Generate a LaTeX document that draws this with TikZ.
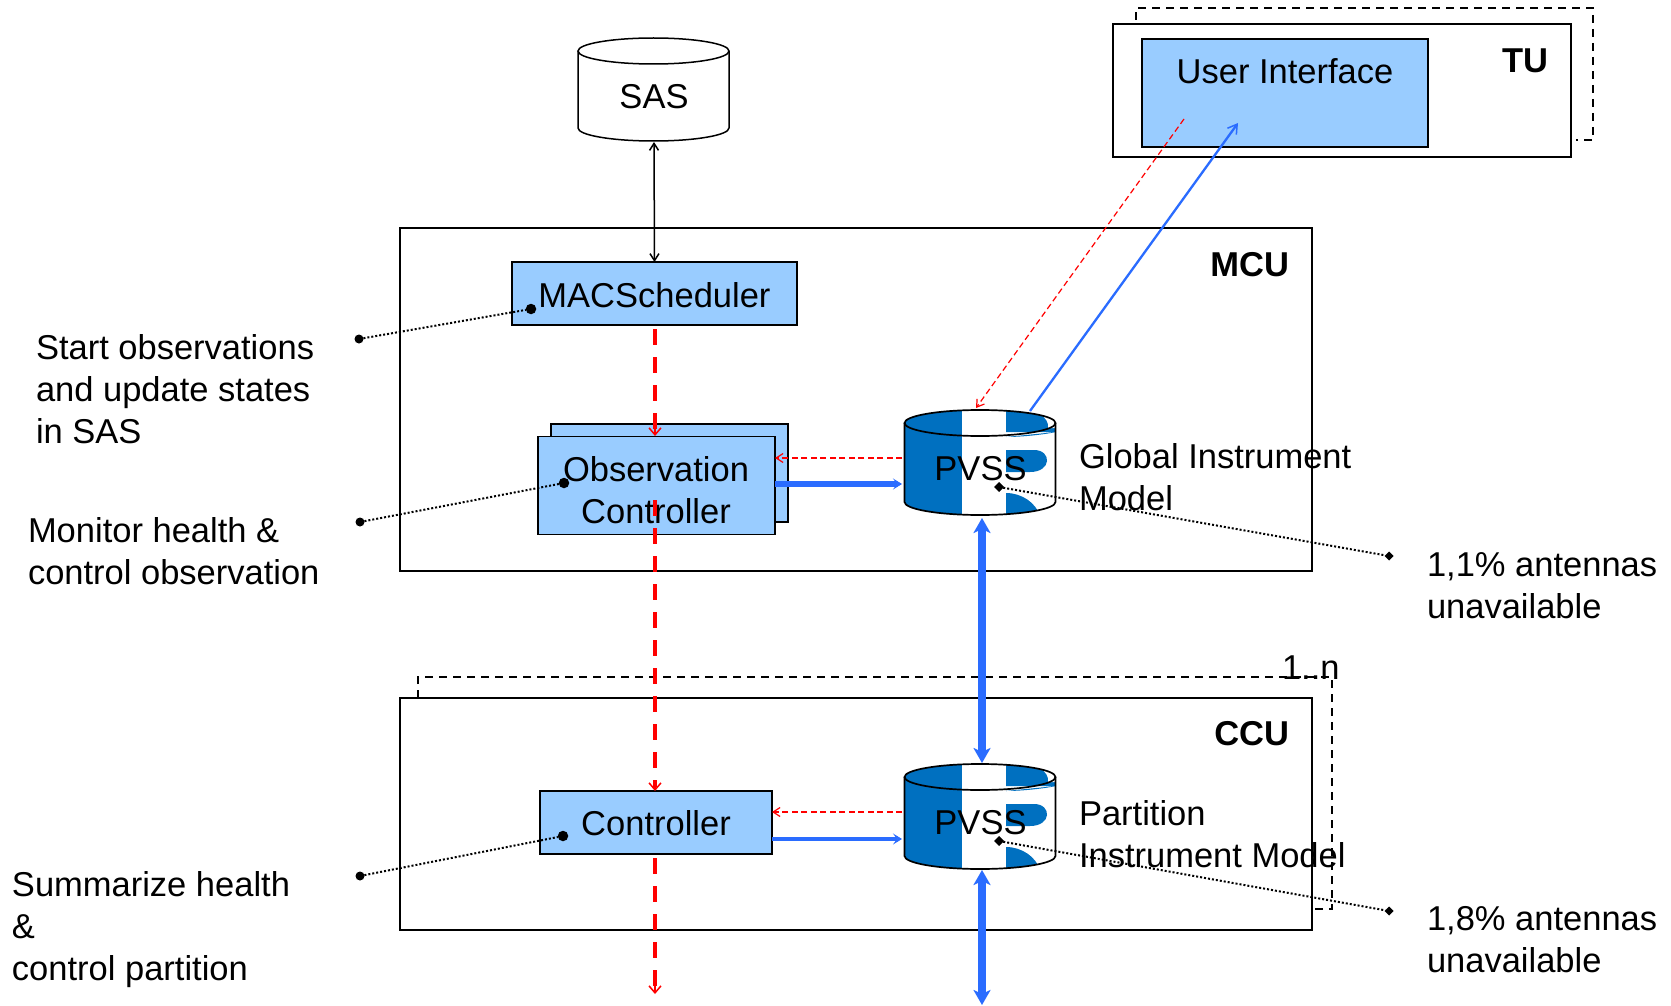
\documentclass[tikz,border=0pt]{standalone}
\usepackage{fontspec}
\setmainfont{Liberation Sans}
\usetikzlibrary{arrows.meta,shapes.geometric,calc}
\definecolor{boxblue}{HTML}{99CCFF}
\definecolor{logoblue}{HTML}{0070C0}
\definecolor{linkblue}{HTML}{2A6CFF}
\newcommand\fl{\rule{0pt}{26pt}}
\newcommand\pvssbody[3]{% #1 name, #2 x centre, #3 top ellipse centre y
  \begin{scope}[shift={(#2,#3)}]
    \begin{scope}
      \clip (-75.5,0) arc[x radius=75.5,y radius=13,start angle=180,end angle=360] -- (75.5,79) arc[x radius=75.5,y radius=13,start angle=0,end angle=180] -- cycle;
      \fill[white] (-76,-14) rectangle (76,93);
      \fill[logoblue] (-76,-14) rectangle (-18,93);
      \fill[logoblue] (26,-14) rectangle (76,9) .. controls (62,12) and (40,14) .. (26,14) -- cycle;
      \fill[white] (60,-9) -- (76,-9) -- (76,5) -- (68,5) .. controls (69,0) and (66,-5) .. (60,-9) -- cycle;
      \fill[logoblue] (26,27) -- (54,27) .. controls (72,27) and (72,49) .. (50,49) -- (26,49) -- cycle;
      \fill[logoblue] (26,70) .. controls (42,70) and (56,80) .. (60,93) -- (26,93) -- cycle;
    \end{scope}
    \draw[line width=1.7pt] (-75.5,0) -- (-75.5,79) arc[x radius=75.5,y radius=13,start angle=180,end angle=0] -- (75.5,0);
    \draw[line width=1.7pt] (0,0) ellipse[x radius=75.5,y radius=13];
  \end{scope}
}
\tikzset{
  x=1pt,y=-1pt,
  every node/.style={font=\fontsize{34.5}{42}\selectfont,inner sep=0pt,outer sep=0pt,text=black},
  frame/.style={draw=black,line width=1.5pt,fill=white,minimum width=#1},
  comp/.style={draw=black,line width=1.5pt,fill=boxblue},
  dashedframe/.style={draw=black,line width=2.4pt,dash pattern=on 8pt off 6pt},
  caption/.style={align=left,anchor=north west},
  boldtag/.style={font=\fontsize{34.5}{42}\selectfont\bfseries,anchor=base east},
  thinred/.style={draw=red,line width=1.2pt,dash pattern=on 6pt off 3.5pt,-{Straight Barb[length=7pt,width=9pt,line width=1.2pt]}},
  thickred/.style={draw=red,line width=4.5pt,dash pattern=on 16pt off 12pt},
  redtip/.style={draw=red,line width=2pt,-{Straight Barb[length=7pt,width=12pt,line width=1.5pt]}},
  thinblue/.style={draw=linkblue,line width=2.3pt,-{Straight Barb[length=9pt,width=11pt,line width=1.5pt]}},
  thickblue/.style={draw=linkblue,line width=#1,-{Stealth[length=9pt,width=11pt,inset=4pt,line width=0.8pt]}},
  fatblue/.style={draw=linkblue,line width=8pt,{Stealth[length=15pt,width=17pt,inset=4pt]}-{Stealth[length=15pt,width=17pt,inset=4pt]}},
  note/.style={draw=black,line width=2pt,dash pattern=on 2pt off 2pt},
  dot/.style={circle,fill=black,minimum size=10.5pt},
  tick/.style={diamond,fill=black},
  blacklink/.style={line width=1.5pt,{Straight Barb[length=7pt,width=9pt,line width=1.5pt]}-{Straight Barb[length=7pt,width=9pt,line width=1.5pt]}},
}
\begin{document}
\begin{tikzpicture}
\useasboundingbox[fill=white] (0,0) rectangle (1671,1006);
% dashed multiplicity frames
\draw[dashedframe] (1136,20) -- (1136,8) -- (1593,8) -- (1593,140) -- (1576,140);
\draw[dashedframe] (418,698) -- (418,677) -- (1332,677) -- (1332,909) -- (1314,909);
% containers
\node[frame=458pt,minimum height=133pt] (tu) at (1342,90.5) {};
\node[frame=912pt,minimum height=343pt] (mcu) at (856,399.5) {};
\node[frame=912pt,minimum height=232pt] (ccu) at (856,814) {};
% labels of containers
\node[boldtag] (tutag) at (1548,73) {TU};
\node[boldtag] (mcutag) at (1289,276) {MCU};
\node[boldtag] (ccutag) at (1289,745.5) {CCU};
\node[anchor=base west] (mult) at (1282,679) {1..n};
% SAS
\fill[white] (578,51) arc[x radius=75.5,y radius=13,start angle=180,end angle=360] -- (729,128) arc[x radius=75.5,y radius=13,start angle=0,end angle=180] -- cycle;
\draw[line width=1.5pt] (578,51) -- (578,128) arc[x radius=75.5,y radius=13,start angle=180,end angle=0] -- (729,51);
\draw[line width=1.5pt] (653.5,51) ellipse[x radius=75.5,y radius=13];
\node[minimum width=152pt,minimum height=90pt] (sas) at (654,97) {SAS};
% components
\node[comp,minimum width=286pt,minimum height=108pt] (ui) at (1285,93) {};
\node[anchor=base] (uitext) at (1285,84) {User Interface};
\node[comp,minimum width=285pt,minimum height=63pt] (mac) at (654.5,293.5) {};
\node[anchor=base] (mactext) at (654.5,307) {MACScheduler};
\node[comp,minimum width=237pt,minimum height=98pt] (obsback) at (669.5,473) {};
\node[comp,minimum width=237pt,minimum height=98pt] (obs) at (656.5,485.5) {};
\node[anchor=north,align=center] (obstext) at (656,455) {\fl Observation\\Controller};
\node[comp,minimum width=232pt,minimum height=63pt] (ctrl) at (656,822.5) {};
\node[anchor=base] (ctrltext) at (656,835) {Controller};
% PVSS cylinders
\pvssbody{a}{980}{423}
\pvssbody{b}{980}{777}
\node[anchor=base] (pvssa) at (980.5,480.5) {PVSS};
\node[anchor=base] (pvssb) at (980.5,834) {PVSS};
% captions
\node[caption] (c1) at (36,333) {\fl Start observations\\and update states\\in SAS};
\node[caption] (c2) at (28,516) {\fl Monitor health \&\\control observation};
\node[caption] (c3) at (12,870) {\fl Summarize health\\\&\\control partition};
\node[caption] (c4) at (1427,550) {\fl 1,1\% antennas\\unavailable};
\node[caption] (c5) at (1427,904) {\fl 1,8\% antennas\\unavailable};
\node[caption] (c6) at (1079,442) {\fl Global Instrument\\Model};
\node[caption] (c7) at (1079,799) {\fl Partition\\Instrument Model};
% connector ends
\coordinate (macout) at (655,329);
\coordinate (obsin) at (655,436);
\coordinate (obsout) at (655,500);
\coordinate (ctrlin) at (655,791);
\coordinate (ctrlout) at (655,858);
\coordinate (redend) at (655,994);
\coordinate (uiredstart) at (1184,119);
\coordinate (pvssredend) at (976,408);
\coordinate (pvssblue) at (1030,411);
\coordinate (uiblue) at (1238,123);
\coordinate (fat1a) at (982,518);
\coordinate (fat1b) at (982,763);
\coordinate (fat2a) at (982,870);
\coordinate (fat2b) at (982,1005);
% connectors
\draw[blacklink] (sas.south) -- (mac.north);
\draw[thickred] (macout) -- ($(obsin)+(0,-4)$);
\draw[redtip] ($(obsin)+(0,-8)$) -- (obsin);
\draw[thickred] (obsout) -- ($(ctrlin)+(0,-4)$);
\draw[redtip] ($(ctrlin)+(0,-8)$) -- (ctrlin);
\draw[thickred] (ctrlout) -- ($(redend)+(0,-4)$);
\draw[redtip] ($(redend)+(0,-8)$) -- (redend);
\draw[thinred] (902,458) -- (obs.east |- 0,458);
\draw[thickblue=5.5pt] (obs.east |- 0,484) -- (902,484);
\draw[thinred] (902,812) -- (ctrl.east |- 0,812);
\draw[thickblue=4.5pt] (ctrl.east |- 0,839) -- (902,839);
\draw[thinred] (uiredstart) -- (pvssredend);
\draw[thinblue] (pvssblue) -- (uiblue);
\draw[fatblue] (fat1a) -- (fat1b);
\draw[fatblue] (fat2a) -- (fat2b);
% annotation lines
\node[dot] (d1) at (531,309) {};
\node[dot] (d2) at (564,483) {};
\node[dot] (d3) at (563,836) {};
\node[dot,minimum size=9pt] (e1) at (359,339) {};
\node[dot,minimum size=9pt] (e2) at (360,522) {};
\node[dot,minimum size=9pt] (e3) at (360,876) {};
\draw[note] (e1) -- (d1);
\draw[note] (e2) -- (d2);
\draw[note] (e3) -- (d3);
\node[tick,minimum size=10pt] (t1) at (999,487) {};
\node[tick,minimum size=9pt] (t2) at (1389,556) {};
\node[tick,minimum size=10pt] (t3) at (999,841) {};
\node[tick,minimum size=9pt] (t4) at (1389,911) {};
\draw[note] (t1) -- (t2);
\draw[note] (t3) -- (t4);
\end{tikzpicture}
\end{document}
